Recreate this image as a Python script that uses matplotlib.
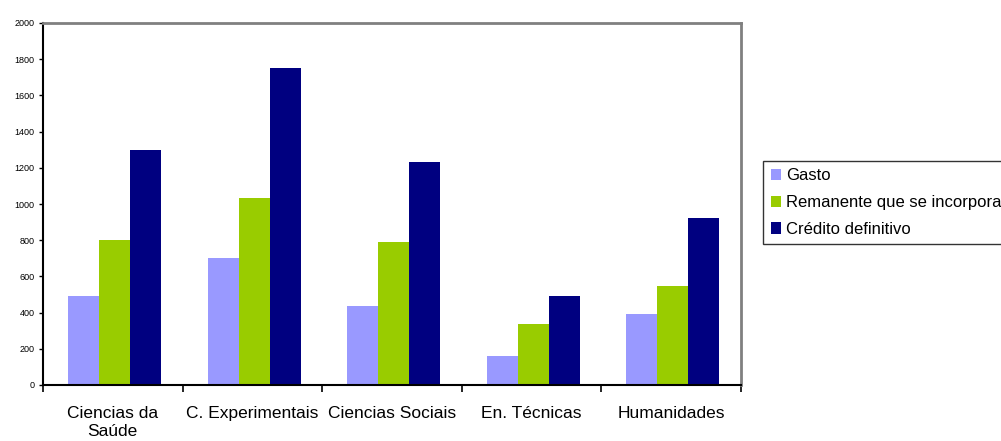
import numpy as np
import matplotlib
matplotlib.use("Agg")
import matplotlib.pyplot as plt
from matplotlib.patches import Patch

plt.rcParams["font.family"] = ["Liberation Sans", "DejaVu Sans"]

categories = ["Ciencias da\nSaúde", "C. Experimentais", "Ciencias Sociais", "En. Técnicas", "Humanidades"]
series_names = ["Gasto", "Remanente que se incorpora", "Crédito definitivo"]
gasto = [492, 702, 436, 160, 392]
remanente = [801, 1033, 790, 337, 547]
credito = [1298, 1751, 1232, 492, 923]
colors = ["#9999FF", "#99CC00", "#000080"]

fig = plt.figure(figsize=(10.01, 4.41), dpi=100)
ax = fig.add_axes([43 / 1001, 1 - 385 / 441, 698 / 1001, 362 / 441])

x = np.arange(len(categories))
w = 0.222
for i, (vals, c) in enumerate(zip([gasto, remanente, credito], colors)):
    ax.bar(x + (i - 1) * w + 0.012, vals, width=w, color=c, label=series_names[i])

ax.set_xlim(-0.5, len(categories) - 0.5)
ax.set_ylim(0, 2000)
ax.set_yticks(range(0, 2001, 200))
ax.tick_params(axis="y", labelsize=6.5, length=3, width=1, direction="out", pad=3)

# category separators as ticks
ax.set_xticks(np.arange(-0.5, len(categories), 1))
ax.set_xticklabels([])
ax.set_xticks(x, minor=True)
ax.set_xticklabels(categories, minor=True, fontsize=12.5, linespacing=1.25)
ax.tick_params(axis="x", which="major", length=5, width=1.2, direction="out")
ax.tick_params(axis="x", which="minor", length=0, pad=15)

for s in ["left", "bottom"]:
    ax.spines[s].set_color("black")
    ax.spines[s].set_linewidth(1.5)
for s in ["top", "right"]:
    ax.spines[s].set_color("#808080")
    ax.spines[s].set_linewidth(2)

handles = [Patch(facecolor=c, label=n) for c, n in zip(colors, series_names)]
leg = fig.legend(handles=handles, loc="upper left", bbox_to_anchor=(763 / 1001, 1 - 161 / 441),
                 fontsize=12, frameon=True, fancybox=False, handlelength=0.65, handleheight=0.65,
                 handletextpad=0.3, borderpad=0.45, labelspacing=0.7, borderaxespad=0)
leg.get_frame().set_edgecolor("black")
leg.get_frame().set_linewidth(1)

fig.savefig("out.png", dpi=100)
